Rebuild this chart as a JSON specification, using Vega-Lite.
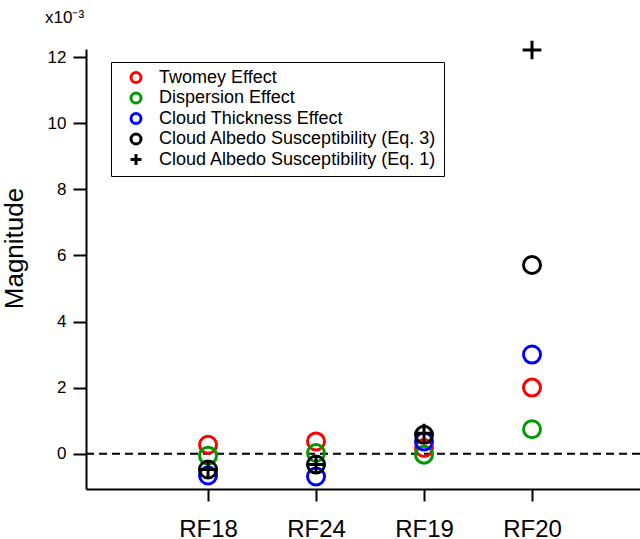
{
  "$schema": "https://vega.github.io/schema/vega-lite/v6.json",
  "width": 554,
  "height": 440,
  "autosize": {"type": "none"},
  "padding": {"left": 86, "top": 49, "right": 0, "bottom": 50},
  "background": "white",
  "title": {
    "text": "x10⁻³",
    "anchor": "start",
    "frame": "group",
    "orient": "top",
    "dx": -41,
    "offset": 8,
    "font": "Liberation Sans",
    "fontSize": 17,
    "fontWeight": "normal",
    "color": "black"
  },
  "config": {
    "view": {"stroke": null},
    "axis": {
      "labelFont": "Liberation Sans",
      "titleFont": "Liberation Sans",
      "labelColor": "black",
      "titleColor": "black",
      "domainColor": "black",
      "domainWidth": 2,
      "tickColor": "black",
      "tickWidth": 2,
      "grid": false
    },
    "legend": {
      "labelFont": "Liberation Sans",
      "labelColor": "black",
      "labelLimit": 400
    }
  },
  "layer": [
    {
      "data": {"values": [{"zero": 0}]},
      "mark": {"type": "rule", "stroke": "black", "strokeWidth": 2, "strokeDash": [8, 5]},
      "encoding": {
        "y": {"field": "zero", "type": "quantitative"}
      }
    },
    {
      "data": {
        "values": [
          {"flight": "RF18", "pos": 1, "series": "Twomey Effect", "value": 0.27},
          {"flight": "RF24", "pos": 2, "series": "Twomey Effect", "value": 0.37},
          {"flight": "RF19", "pos": 3, "series": "Twomey Effect", "value": 0.17},
          {"flight": "RF20", "pos": 4, "series": "Twomey Effect", "value": 2.0},
          {"flight": "RF18", "pos": 1, "series": "Dispersion Effect", "value": -0.06},
          {"flight": "RF24", "pos": 2, "series": "Dispersion Effect", "value": 0.02},
          {"flight": "RF19", "pos": 3, "series": "Dispersion Effect", "value": -0.03},
          {"flight": "RF20", "pos": 4, "series": "Dispersion Effect", "value": 0.74},
          {"flight": "RF18", "pos": 1, "series": "Cloud Thickness Effect", "value": -0.66},
          {"flight": "RF24", "pos": 2, "series": "Cloud Thickness Effect", "value": -0.69},
          {"flight": "RF19", "pos": 3, "series": "Cloud Thickness Effect", "value": 0.37},
          {"flight": "RF20", "pos": 4, "series": "Cloud Thickness Effect", "value": 3.0},
          {"flight": "RF18", "pos": 1, "series": "Cloud Albedo Susceptibility (Eq. 3)", "value": -0.48},
          {"flight": "RF24", "pos": 2, "series": "Cloud Albedo Susceptibility (Eq. 3)", "value": -0.33},
          {"flight": "RF19", "pos": 3, "series": "Cloud Albedo Susceptibility (Eq. 3)", "value": 0.57},
          {"flight": "RF20", "pos": 4, "series": "Cloud Albedo Susceptibility (Eq. 3)", "value": 5.71},
          {"flight": "RF18", "pos": 1, "series": "Cloud Albedo Susceptibility (Eq. 1)", "value": -0.48},
          {"flight": "RF24", "pos": 2, "series": "Cloud Albedo Susceptibility (Eq. 1)", "value": -0.33},
          {"flight": "RF19", "pos": 3, "series": "Cloud Albedo Susceptibility (Eq. 1)", "value": 0.62},
          {"flight": "RF20", "pos": 4, "series": "Cloud Albedo Susceptibility (Eq. 1)", "value": 12.22}
        ]
      },
      "mark": {"type": "point", "filled": false, "size": 289, "strokeWidth": 3, "opacity": 1},
      "encoding": {
        "x": {
          "field": "pos",
          "type": "quantitative",
          "scale": {"domain": [-0.13, 5.0], "nice": false, "zero": false},
          "axis": {
            "title": null,
            "values": [1, 2, 3, 4],
            "labelExpr": "['', 'RF18', 'RF24', 'RF19', 'RF20'][datum.value]",
            "tickSize": 12,
            "labelPadding": 16,
            "labelFontSize": 24
          }
        },
        "y": {
          "field": "value",
          "type": "quantitative",
          "scale": {"domain": [-1.07, 12.25], "nice": false, "zero": false},
          "axis": {
            "title": "Magnitude",
            "titleFontSize": 26,
            "titleFontWeight": "normal",
            "titleAngle": -90,
            "titleAlign": "center",
            "titleBaseline": "alphabetic",
            "titleX": -64,
            "titleY": 199,
            "values": [0, 2, 4, 6, 8, 10, 12],
            "format": "d",
            "tickSize": 13,
            "labelPadding": 7,
            "labelFontSize": 17
          }
        },
        "color": {
          "field": "series",
          "type": "nominal",
          "sort": null,
          "scale": {
            "domain": ["Twomey Effect", "Dispersion Effect", "Cloud Thickness Effect", "Cloud Albedo Susceptibility (Eq. 3)", "Cloud Albedo Susceptibility (Eq. 1)"],
            "range": ["#FF0000", "#009A00", "#0000FF", "#000000", "#000000"]
          },
          "legend": {
            "title": null,
            "orient": "none",
            "legendX": 25,
            "legendY": 13,
            "padding": 7,
            "strokeColor": "black",
            "fillColor": "white",
            "labelFontSize": 18,
            "symbolSize": 100,
            "symbolStrokeWidth": 3,
            "symbolOffset": 9,
            "labelOffset": 14,
            "clipHeight": 17,
            "rowPadding": 1.5,
            "encode": {"legend": {"update": {"strokeWidth": {"value": 2}}}}
          }
        },
        "shape": {
          "field": "series",
          "type": "nominal",
          "sort": null,
          "scale": {
            "domain": ["Twomey Effect", "Dispersion Effect", "Cloud Thickness Effect", "Cloud Albedo Susceptibility (Eq. 3)", "Cloud Albedo Susceptibility (Eq. 1)"],
            "range": ["circle", "circle", "circle", "circle", "M-1.1,0H1.1M0,-1.1V1.1"]
          },
          "legend": {
            "title": null,
            "orient": "none",
            "legendX": 25,
            "legendY": 13,
            "padding": 7,
            "strokeColor": "black",
            "fillColor": "white",
            "labelFontSize": 18,
            "symbolSize": 100,
            "symbolStrokeWidth": 3,
            "symbolOffset": 9,
            "labelOffset": 14,
            "clipHeight": 17,
            "rowPadding": 1.5,
            "encode": {"legend": {"update": {"strokeWidth": {"value": 2}}}}
          }
        },
        "tooltip": [
          {"field": "flight", "type": "nominal", "title": "Flight"},
          {"field": "series", "type": "nominal", "title": "Series"},
          {"field": "value", "type": "quantitative", "title": "Magnitude (x10⁻³)"}
        ]
      }
    }
  ]
}
